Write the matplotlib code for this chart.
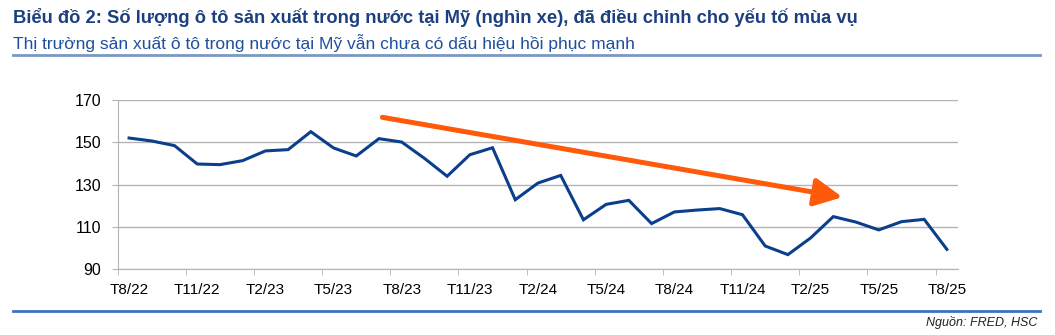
import matplotlib.pyplot as plt
import numpy as np

plt.rcParams['font.family'] = ['Liberation Sans', 'DejaVu Sans']

# monthly data T8/22 .. T8/25 (nghin xe)
months = ['T%d/%d' % (m, y) for y, ms in [(22, range(8, 13)), (23, range(1, 13)),
                                         (24, range(1, 13)), (25, range(1, 9))] for m in ms]
production = [152.0, 150.6, 148.4, 139.7, 139.4, 141.3, 145.9, 146.5, 155.0, 147.3,
              143.5, 151.7, 150.1, 142.4, 133.9, 144.1, 147.4, 122.8, 130.7, 134.3,
              113.3, 120.6, 122.5, 111.5, 117.0, 117.9, 118.6, 115.7, 100.9, 96.8,
              104.7, 114.8, 112.2, 108.5, 112.4, 113.5, 99.3]
yticks = [90, 110, 130, 150, 170]

# trend arrow (index, value)
arrow_start = (11.15, 161.8)
arrow_end = (31.4, 124.0)

blue = '#0b3f8c'
orange = '#ff5a0a'
grid = '#b4b4b4'

fig = plt.figure(figsize=(10.55, 3.35), dpi=100)
ax = fig.add_axes([0.1116, 0.197, 0.7967, 0.5045])

x = np.arange(len(months))
ax.plot(x, production, color=blue, linewidth=2.2, zorder=3, solid_joinstyle='miter')

ax.annotate('', xy=arrow_end, xytext=arrow_start,
            arrowprops=dict(arrowstyle='-|>,head_length=1.7,head_width=0.85',
                            color=orange, lw=3.6, shrinkA=0, shrinkB=0), zorder=4)

ax.set_xlim(-0.5, len(months) - 0.5)
ax.set_ylim(90, 170)
ax.set_yticks(yticks)
ax.yaxis.grid(True, color=grid, linewidth=1)
ax.set_axisbelow(True)

ax.set_xticks(x[::3])
ax.set_xticklabels(months[::3])
ax.set_xticks(np.arange(-0.5, len(months), 3), minor=True)
ax.tick_params(axis='x', which='major', length=0, pad=10, labelsize=11)
ax.tick_params(axis='x', which='minor', length=4, color=grid)
ax.tick_params(axis='y', length=4, color=grid, labelsize=11.5, pad=8)

for s in ['top', 'right']:
    ax.spines[s].set_visible(False)
for s in ['left', 'bottom']:
    ax.spines[s].set_color(grid)

fig.text(0.012, 0.948, 'Biểu đồ 2: Số lượng ô tô sản xuất trong nước tại Mỹ (nghìn xe), '
         'đã điều chỉnh cho yếu tố mùa vụ', fontsize=13.25, fontweight='bold',
         color='#1c3f7e', va='center')
fig.text(0.012, 0.873, 'Thị trường sản xuất ô tô trong nước tại Mỹ vẫn chưa có dấu hiệu hồi phục mạnh',
         fontsize=12.5, color='#1f4f9c', va='center')
fig.add_artist(plt.Line2D([0.012, 0.986], [0.836, 0.836], color='#7b97c2', linewidth=2))
fig.add_artist(plt.Line2D([0.012, 0.986], [0.073, 0.073], color='#3e72c0', linewidth=2))
fig.text(0.983, 0.038, 'Nguồn: FRED, HSC', fontsize=9, style='italic', ha='right',
         va='center', color='#222222')

fig.savefig('out.png', dpi=100)
